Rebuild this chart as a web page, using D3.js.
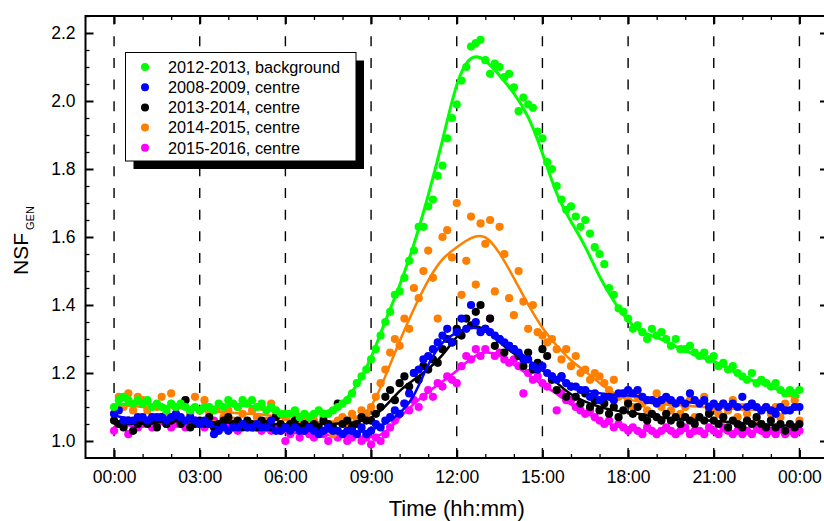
<!DOCTYPE html>
<html lang="en">
<head>
<meta charset="utf-8">
<title>NSF GEN - daily profile</title>
<script src="https://cdnjs.cloudflare.com/ajax/libs/d3/7.8.5/d3.min.js"></script>
<style>
body { margin: 0; background: #fff; }
svg { font-family: Arial, "Liberation Sans", sans-serif; }
.axis text { font-size: 17.5px; fill: #000; }
.axis line { stroke: #000; }
.grid line { stroke: #000; stroke-width: 1.4; stroke-dasharray: 10,11.67; }
</style>
</head>
<body>
<div id="chart"></div>
<script>

// scatter values, one every 10 min from 00:00 to 24:00 (6 per row = 1 hour)
var green2012 = [
  1.10, 1.12, 1.13, 1.12, 1.11, 1.12,
  1.11, 1.12, 1.10, 1.11, 1.10, 1.09,
  1.11, 1.10, 1.11, 1.10, 1.09, 1.10,
  1.09, 1.10, 1.10, 1.09, 1.11, 1.10,
  1.12, 1.11, 1.10, 1.12, 1.11, 1.12,
  1.10, 1.11, 1.09, 1.10, 1.09, 1.08,
  1.08, 1.08, 1.09, 1.07, 1.08, 1.07,
  1.08, 1.09, 1.08, 1.08, 1.09, 1.10,
  1.11, 1.12, 1.14, 1.17, 1.19, 1.21,
  1.24, 1.27, 1.31, 1.35, 1.38, 1.43,
  1.44, 1.48, 1.53, 1.56, 1.63, 1.63,
  1.69, 1.71, 1.78, 1.81, 1.89, 1.95,
  1.99, 2.06, 2.10, 2.16, 2.17, 2.18,
  2.12, 2.08, 2.11, 2.10, 2.07, 2.08,
  2.04, 1.97, 2.01, 1.99, 1.98, 1.91,
  1.89, 1.82, 1.80, 1.75, 1.71, 1.68,
  1.69, 1.66, 1.63, 1.65, 1.61, 1.57,
  1.55, 1.52, 1.45, 1.43, 1.39, 1.38,
  1.36, 1.33, 1.34, 1.32, 1.30, 1.33,
  1.31, 1.32, 1.30, 1.28, 1.30, 1.27,
  1.27, 1.28, 1.26, 1.25, 1.26, 1.24,
  1.25, 1.22, 1.23, 1.21, 1.22, 1.20,
  1.19, 1.18, 1.20, 1.17, 1.18, 1.17,
  1.16, 1.17, 1.15, 1.14, 1.15, 1.14,
  1.15
];

var blue2008 = [
  1.08, 1.09, 1.06, 1.06, 1.06, 1.07,
  1.07, 1.06, 1.07, 1.07, 1.07, 1.06,
  1.07, 1.08, 1.07, 1.06, 1.07, 1.06,
  1.05, 1.06, 1.05, 1.02, 1.03, 1.04,
  1.03, 1.04, 1.04, 1.05, 1.04, 1.04,
  1.05, 1.04, 1.04, 1.06, 1.03, 1.03,
  1.04, 1.03, 1.04, 1.03, 1.03, 1.04,
  1.03, 1.02, 1.03, 1.04, 1.03, 1.03,
  1.02, 1.03, 1.03, 1.02, 1.04, 1.02,
  1.03, 1.05, 1.04, 1.06, 1.07, 1.09,
  1.08, 1.11, 1.14, 1.20, 1.21, 1.24,
  1.25, 1.27, 1.29, 1.31, 1.33, 1.29,
  1.32, 1.36, 1.33, 1.40, 1.35, 1.32,
  1.33, 1.32, 1.31, 1.30, 1.29, 1.28,
  1.27, 1.26, 1.24, 1.24, 1.22, 1.21,
  1.22, 1.20, 1.19, 1.18, 1.19, 1.17,
  1.16, 1.16, 1.15, 1.15, 1.13, 1.14,
  1.12, 1.13, 1.13, 1.12, 1.14, 1.14,
  1.15, 1.14, 1.15, 1.13, 1.12, 1.12,
  1.11, 1.12, 1.13, 1.12, 1.11, 1.12,
  1.11, 1.14, 1.12, 1.11, 1.12, 1.10,
  1.11, 1.10, 1.11, 1.10, 1.11, 1.10,
  1.13, 1.10, 1.11, 1.10, 1.09, 1.10,
  1.09, 1.08, 1.10, 1.09, 1.09, 1.10,
  1.10
];

var black2013 = [
  1.06, 1.05, 1.04, 1.06, 1.03, 1.05,
  1.06, 1.05, 1.06, 1.04, 1.07, 1.05,
  1.06, 1.07, 1.05, 1.12, 1.04, 1.05,
  1.06, 1.05, 1.07, 1.04, 1.05, 1.06,
  1.07, 1.05, 1.06, 1.04, 1.06, 1.05,
  1.04, 1.06, 1.05, 1.04, 1.07, 1.05,
  1.04, 1.05, 1.06, 1.04, 1.05, 1.04,
  1.05, 1.04, 1.06, 1.05, 1.04, 1.11,
  1.05, 1.06, 1.04, 1.05, 1.07, 1.06,
  1.06, 1.08, 1.10, 1.13, 1.15, 1.12,
  1.17, 1.19, 1.16, 1.20, 1.18, 1.22,
  1.21, 1.24, 1.23, 1.27, 1.30, 1.29,
  1.33, 1.31, 1.36, 1.34, 1.38, 1.40,
  1.33, 1.36, 1.28, 1.30, 1.26, 1.28,
  1.27, 1.25, 1.22, 1.26, 1.21, 1.23,
  1.27, 1.25, 1.18, 1.15, 1.19, 1.13,
  1.16, 1.13, 1.11, 1.14, 1.10, 1.12,
  1.09, 1.11, 1.08, 1.10, 1.07, 1.09,
  1.11, 1.08, 1.10, 1.07, 1.06, 1.08,
  1.07, 1.06, 1.08, 1.06, 1.07, 1.05,
  1.07, 1.06, 1.05, 1.07, 1.06, 1.08,
  1.06, 1.05, 1.07, 1.04, 1.06, 1.05,
  1.04, 1.06, 1.05, 1.07, 1.05, 1.04,
  1.06, 1.04, 1.05, 1.03, 1.05, 1.04,
  1.05
];

var orange2014 = [
  1.08, 1.13, 1.10, 1.14, 1.09, 1.13,
  1.12, 1.09, 1.07, 1.10, 1.13, 1.08,
  1.14, 1.10, 1.06, 1.12, 1.08, 1.13,
  1.09, 1.12, 1.08, 1.05, 1.10, 1.07,
  1.09, 1.06, 1.10, 1.08, 1.05, 1.09,
  1.07, 1.10, 1.06, 1.11, 1.08, 1.05,
  1.07, 1.03, 1.08, 1.05, 1.07, 1.04,
  1.06, 1.03, 1.07, 1.05, 1.02, 1.06,
  1.07, 1.05, 1.08, 1.06, 1.09, 1.08,
  1.10, 1.13, 1.17, 1.21, 1.26, 1.30,
  1.28, 1.36, 1.33, 1.45, 1.42, 1.50,
  1.56, 1.48, 1.36, 1.60, 1.62, 1.54,
  1.70, 1.43, 1.53, 1.66, 1.46, 1.64,
  1.58, 1.65, 1.44, 1.63, 1.55, 1.42,
  1.37, 1.50, 1.41, 1.33, 1.40, 1.32,
  1.31, 1.29, 1.30, 1.27, 1.24, 1.27,
  1.22, 1.25, 1.20, 1.21, 1.18, 1.20,
  1.19, 1.17, 1.15, 1.18, 1.13, 1.14,
  1.12, 1.10, 1.13, 1.11, 1.09, 1.12,
  1.14, 1.10, 1.12, 1.09, 1.11, 1.08,
  1.10, 1.12, 1.07, 1.11, 1.13, 1.09,
  1.10, 1.08, 1.11, 1.09, 1.12, 1.07,
  1.10, 1.08, 1.11, 1.06, 1.09, 1.10,
  1.08, 1.10, 1.07, 1.11, 1.14, 1.12,
  1.06
];

var magenta2015 = [
  1.03, 1.05, 1.06, 1.02, 1.05, 1.04,
  1.05, 1.06, 1.04, 1.05, 1.06, 1.05,
  1.04, 1.05, 1.06, 1.04, 1.05, 1.06,
  1.05, 1.04, 1.05, 1.06, 1.04, 1.05,
  1.05, 1.04, 1.03, 1.05, 1.04, 1.04,
  1.04, 1.03, 1.04, 1.03, 1.04, 1.03,
  1.00, 1.02, 1.04, 1.01, 1.03, 1.02,
  1.01, 1.03, 1.02, 1.00, 1.02, 1.01,
  1.02, 1.00, 1.01, 1.02, 1.00, 1.01,
  0.99, 1.01, 1.00, 1.02, 1.04, 1.06,
  1.08, 1.11, 1.09, 1.12, 1.10, 1.13,
  1.15, 1.13, 1.17, 1.16, 1.19, 1.18,
  1.17, 1.22, 1.25, 1.24, 1.27, 1.25,
  1.27, 1.36, 1.25, 1.26, 1.24, 1.23,
  1.24, 1.22, 1.14, 1.20, 1.18, 1.19,
  1.17, 1.16, 1.19, 1.09, 1.14, 1.12,
  1.12, 1.10, 1.09, 1.08, 1.09, 1.07,
  1.06, 1.05, 1.06, 1.04, 1.05, 1.04,
  1.03, 1.04, 1.03, 1.02, 1.04, 1.03,
  1.02, 1.03, 1.04, 1.03, 1.02, 1.03,
  1.04, 1.02, 1.03, 1.03, 1.02, 1.04,
  1.03, 1.02, 1.04, 1.03, 1.02, 1.03,
  1.02, 1.03, 1.02, 1.04, 1.03, 1.02,
  1.03, 1.02, 1.04, 1.02, 1.03, 1.02,
  1.03
];

// smoothed curves, one value every 30 min from 00:00 to 24:00
var greenFit = [1.105, 1.11, 1.11, 1.105, 1.10, 1.10, 1.095, 1.10, 1.105, 1.105, 1.10, 1.09,
  1.08, 1.078, 1.08, 1.085, 1.11, 1.16, 1.24, 1.355, 1.455, 1.575, 1.72, 1.88,
  2.065, 2.14, 2.124, 2.075, 2.025, 1.96, 1.85, 1.72, 1.645, 1.575, 1.48, 1.41,
  1.35, 1.318, 1.306, 1.285, 1.265, 1.248, 1.235, 1.215, 1.187, 1.174, 1.16, 1.142, 1.13];
var blueFit = [1.075, 1.065, 1.065, 1.068, 1.07, 1.068, 1.055, 1.04, 1.038, 1.043, 1.045, 1.04,
  1.035, 1.033, 1.03, 1.028, 1.027, 1.025, 1.03, 1.05, 1.08, 1.125, 1.23, 1.295,
  1.32, 1.338, 1.325, 1.30, 1.275, 1.24, 1.205, 1.185, 1.165, 1.15, 1.14, 1.135,
  1.135, 1.13, 1.122, 1.118, 1.115, 1.112, 1.108, 1.105, 1.10, 1.097, 1.093, 1.095, 1.10];
var blackFit = [1.05, 1.05, 1.052, 1.055, 1.058, 1.06, 1.055, 1.055, 1.055, 1.052, 1.05, 1.05,
  1.048, 1.048, 1.05, 1.05, 1.052, 1.055, 1.065, 1.10, 1.15, 1.18, 1.21, 1.25,
  1.31, 1.345, 1.33, 1.29, 1.255, 1.235, 1.215, 1.17, 1.135, 1.115, 1.10, 1.09,
  1.085, 1.078, 1.07, 1.066, 1.064, 1.062, 1.06, 1.056, 1.053, 1.05, 1.047, 1.045, 1.045];
var orangeFit = [1.10, 1.105, 1.10, 1.095, 1.10, 1.095, 1.09, 1.085, 1.085, 1.08, 1.08, 1.075,
  1.065, 1.06, 1.055, 1.055, 1.06, 1.07, 1.09, 1.19, 1.295, 1.39, 1.475, 1.54,
  1.57, 1.60, 1.61, 1.555, 1.48, 1.40, 1.33, 1.28, 1.235, 1.205, 1.17, 1.14,
  1.12, 1.115, 1.11, 1.105, 1.105, 1.10, 1.10, 1.095, 1.095, 1.09, 1.09, 1.095, 1.10];
var magentaFit = [1.045, 1.045, 1.05, 1.05, 1.05, 1.05, 1.048, 1.048, 1.045, 1.042, 1.04, 1.035,
  1.025, 1.022, 1.02, 1.018, 1.015, 1.012, 1.01, 1.02, 1.07, 1.11, 1.145, 1.175,
  1.205, 1.245, 1.265, 1.255, 1.225, 1.195, 1.165, 1.14, 1.105, 1.085, 1.06, 1.045,
  1.035, 1.03, 1.03, 1.03, 1.03, 1.03, 1.03, 1.028, 1.028, 1.027, 1.026, 1.025, 1.025];

var series = [
  {name: "2012-2013, background", color: "#00ff00", values: green2012, fit: greenFit},
  {name: "2008-2009, centre", color: "#0000ff", values: blue2008, fit: blueFit},
  {name: "2013-2014, centre", color: "#000000", values: black2013, fit: blackFit},
  {name: "2014-2015, centre", color: "#ff8000", values: orange2014, fit: orangeFit},
  {name: "2015-2016, centre", color: "#ff00ff", values: magenta2015, fit: magentaFit}
];

var xMajor = [0, 3, 6, 9, 12, 15, 18, 21, 24];
var yMajor = [1.0, 1.2, 1.4, 1.6, 1.8, 2.0, 2.2];

var width = 824, height = 521;
var plotLeft = 85.5, plotRight = 828, plotTop = 16, plotBottom = 458;

var x = d3.scaleLinear().domain([-1, 25]).range([plotLeft, plotRight]);
var y = d3.scaleLinear().domain([0.95, 2.25]).range([plotBottom, plotTop]);

var svg = d3.select("#chart").append("svg")
    .attr("width", width)
    .attr("height", height);

function hhmm(h) { return d3.format("02d")(h % 24 == 0 && h > 0 ? 0 : h) + ":00"; }

// dashed verticals every 3 hours
svg.append("g")
    .attr("class", "grid")
  .selectAll("line")
  .data(xMajor)
  .enter().append("line")
    .attr("x1", function(d) { return x(d); })
    .attr("x2", function(d) { return x(d); })
    .attr("y1", plotBottom)
    .attr("y2", plotTop);

// data: drawn back to front
var plot = svg.append("g");
var stepScatter = 1 / 6, stepFit = 0.5;

var line = d3.line()
    .x(function(d) { return x(d[0]); })
    .y(function(d) { return y(d[1]); })
    .curve(d3.curveBasis);

series.slice().reverse().forEach(function(s) {
  var g = plot.append("g");
  g.selectAll("circle")
    .data(s.values)
    .enter().append("circle")
      .attr("cx", function(d, i) { return x(i * stepScatter); })
      .attr("cy", function(d) { return y(d); })
      .attr("r", 4.1)
      .attr("fill", s.color);
  g.append("path")
    .datum(s.fit.map(function(d, i) { return [i * stepFit, d]; }))
    .attr("fill", "none")
    .attr("stroke", s.color)
    .attr("stroke-width", s.color == "#00ff00" ? 3 : 2.5)
    .attr("d", line);
});

// axes, ticks pointing inward
var xMinor = d3.range(0, 25).filter(function(d) { return d % 3 != 0; });
var yMinor = d3.range(20, 46).filter(function(k) { return k % 4 != 0; }).map(function(k) { return k / 20; });

function axisPair(axisFn, scale, pos, major, minor, labels, fmt, pad) {
  var g = svg.append("g").attr("class", "axis").attr("transform", pos);
  g.call(axisFn(scale).tickValues(minor).tickSize(-4).tickFormat(""));
  g.selectAll("line").attr("stroke-width", 1.3);
  var gm = svg.append("g").attr("class", "axis").attr("transform", pos);
  gm.call(axisFn(scale).tickValues(major).tickSize(-8).tickPadding(pad)
      .tickFormat(labels ? fmt : ""));
  gm.selectAll("line").attr("stroke-width", 2);
  g.select(".domain").remove();
  gm.select(".domain").remove();
  gm.attr("font-family", null).attr("font-size", null);
}

axisPair(d3.axisBottom, x, "translate(0," + plotBottom + ")", xMajor, xMinor, true, hhmm, 12.5);
axisPair(d3.axisTop, x, "translate(0," + plotTop + ")", xMajor, xMinor, false, null, 0);
axisPair(d3.axisLeft, y, "translate(" + plotLeft + ",0)", yMajor, yMinor, true, d3.format(".1f"), 10);
axisPair(d3.axisRight, y, "translate(" + plotRight + ",0)", yMajor, yMinor, false, null, 0);

// frame
svg.append("rect")
    .attr("x", plotLeft)
    .attr("y", plotTop)
    .attr("width", plotRight - plotLeft)
    .attr("height", plotBottom - plotTop)
    .attr("fill", "none")
    .attr("stroke", "#000")
    .attr("stroke-width", 2);

// axis titles
svg.append("text")
    .attr("x", (plotLeft + plotRight) / 2)
    .attr("y", 516)
    .attr("text-anchor", "middle")
    .attr("font-size", 22)
    .text("Time (hh:mm)");

var ytitle = svg.append("text")
    .attr("transform", "translate(28,275) rotate(-90)")
    .attr("font-size", 21);
ytitle.append("tspan").text("NSF");
ytitle.append("tspan")
    .attr("font-size", 11)
    .attr("dx", 3)
    .attr("dy", 6)
    .text("GEN");

// legend with drop shadow
var legend = svg.append("g").attr("transform", "translate(125.5,52.5)");
var lw = 230.5, lh = 108.5;
legend.append("rect")
    .attr("x", 8).attr("y", 8)
    .attr("width", lw).attr("height", lh)
    .attr("fill", "#000");
legend.append("rect")
    .attr("width", lw).attr("height", lh)
    .attr("fill", "#fff")
    .attr("stroke", "#000")
    .attr("stroke-width", 1);

var item = legend.selectAll(".item")
    .data(series)
    .enter().append("g")
      .attr("class", "item")
      .attr("transform", function(d, i) { return "translate(0," + (14.5 + i * 20.2) + ")"; });
item.append("circle")
    .attr("cx", 19.5)
    .attr("r", 4)
    .attr("fill", function(d) { return d.color; });
item.append("text")
    .attr("x", 42.5)
    .attr("y", 5.8)
    .attr("font-size", 16.3)
    .text(function(d) { return d.name; });

</script>
</body>
</html>
